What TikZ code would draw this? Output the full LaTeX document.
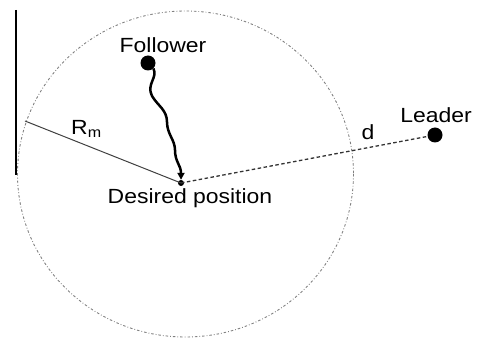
\documentclass[tikz,border=0pt]{standalone}
\usepackage{fontspec}
\setmainfont{Liberation Sans}
\usetikzlibrary{decorations.pathmorphing,arrows.meta}
\begin{document}
\begin{tikzpicture}[x=1pt,y=-1pt,
  lbl/.style={inner sep=0pt,font=\fontsize{20.5}{24}\selectfont},
  dotnode/.style={circle,fill=black,inner sep=0pt,minimum size=15pt},
  ring/.style={gray,line width=0.9pt,dash pattern=on 2.5pt off 2pt on 0.8pt off 2pt},
]
\useasboundingbox (0,0) rectangle (477,339);
\draw[ring] (185.5,174) ellipse [x radius=168, y radius=163];
\draw[line width=1.3pt] (16,10) -- (16,175);
\node[circle,fill=black,inner sep=0pt,minimum size=6pt] (dp) at (181,183) {};
\node[dotnode] (fol) at (148,63) {};
\node[dotnode] (lead) at (435,135) {};
\coordinate (rim) at (25,121);
\node[lbl] (tf) at (163,45) {\scalebox{1.12}[1]{Follower}};
\node[lbl] (tl) at (436,115) {\scalebox{1.12}[1]{Leader}};
\node[lbl] (td) at (368,132) {\scalebox{1.12}[1]{d}};
\node[lbl] (tdp) at (190,198) {\scalebox{1.12}[1]{Desired position}};
\node[lbl,anchor=west] (trm) at (71,129) {\scalebox{1.12}[1]{R\textsubscript{m}}};
\draw[gray!50!black,line width=1pt] (rim) -- (dp.center);
\draw[gray!40!black,line width=1.3pt,dash pattern=on 3.5pt off 2.5pt] (dp.center) -- (lead);
\draw[line width=2.5pt,-{Triangle[length=7pt,width=7pt]}]
  (fol.south east) .. controls (158,78) and (146,84) .. (152,96)
  .. controls (158,106) and (167,110) .. (167,122)
  .. controls (167,134) and (175,140) .. (175,150)
  .. controls (175,162) and (181,165) .. (dp.north);
\end{tikzpicture}
\end{document}
